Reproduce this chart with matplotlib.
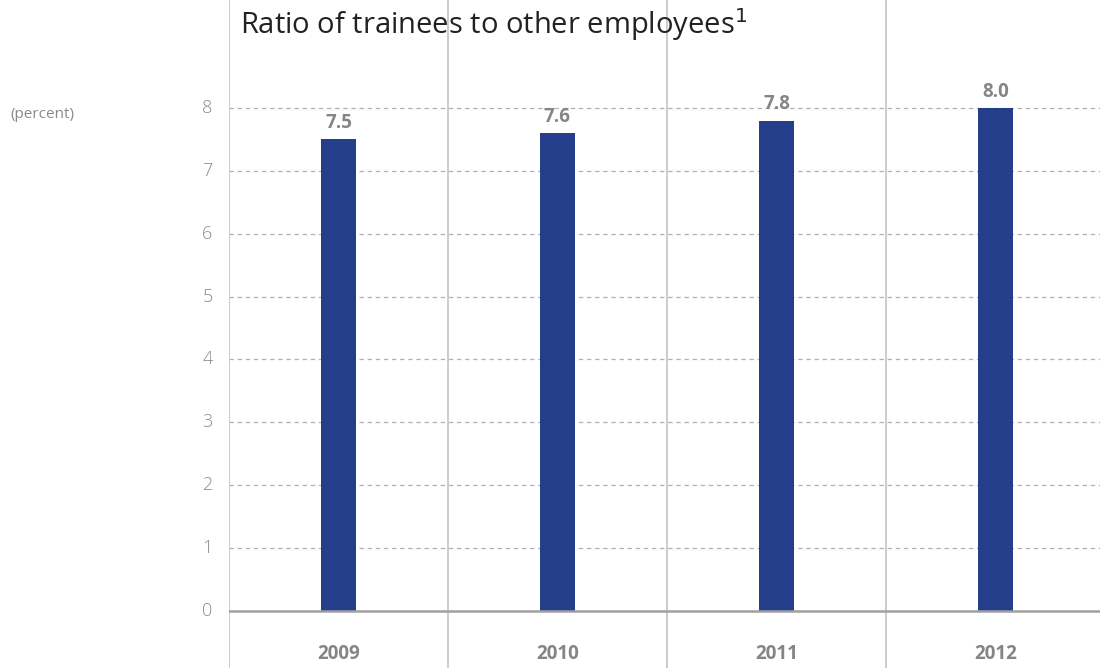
import matplotlib
matplotlib.use("Agg")
import matplotlib.pyplot as plt

years = ["2009", "2010", "2011", "2012"]
ratio = [7.5, 7.6, 7.8, 8.0]
yticks = [0, 1, 2, 3, 4, 5, 6, 7, 8]

plt.rcParams["font.family"] = ["Open Sans", "DejaVu Sans"]

W, H = 1100, 668
fig = plt.figure(figsize=(W / 100, H / 100), dpi=100)
ax = fig.add_axes([229 / W, 0, 1 - 229 / W, 1])

bar_color = "#243e8c"
grey_txt = "#8a8a8a"
sep_color = "#c4c4c4"

x = list(range(len(years)))
ax.bar(x, ratio, width=0.158, color=bar_color, zorder=3)

ax.set_xlim(-0.5, 3.5 - 5 / 219)
ax.set_ylim(-0.907, 9.718)

for s in ax.spines.values():
    s.set_visible(False)
ax.set_xticks([])
ax.set_yticks([])

# dashed gridlines
for t in yticks[1:]:
    ax.axhline(t, color="#b0b0b0", lw=0.9, ls=(0, (3.5, 3)), zorder=1)
# baseline
ax.axhline(0, color="#a0a0a0", lw=1.8, zorder=4)
# column separators
for i in range(len(years)):
    ax.axvline(i - 0.5, color=sep_color, lw=1.2, zorder=2)

# y tick labels
for t in yticks:
    ax.text(-0.575, t, str(t), ha="right", va="center", fontsize=13,
            color=grey_txt, fontweight="light")

# value labels
for xi, v in zip(x, ratio):
    ax.text(xi, v + 0.1, f"{v:.1f}", ha="center", va="bottom", fontsize=13.5,
            fontweight="bold", color="#858585")

# year labels
for xi, yr in zip(x, years):
    ax.text(xi, -0.68, yr, ha="center", va="center", fontsize=13.5,
            fontweight="bold", color="#858585")

fig.text(240 / W, 1 - 25 / H, "Ratio of trainees to other employees$^1$",
         ha="left", va="center", fontsize=21, color="#222222")
fig.text(10 / W, 1 - 114 / H, "(percent)", ha="left", va="center",
         fontsize=11, color=grey_txt)

fig.savefig("out.png", dpi=100)
